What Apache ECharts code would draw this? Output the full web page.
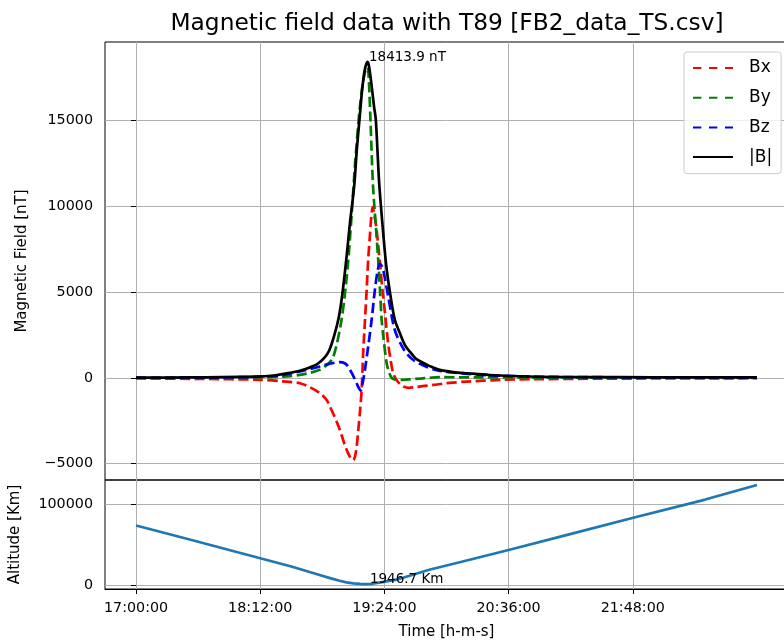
<!DOCTYPE html>
<html><head><meta charset="utf-8">
<script src="https://cdn.jsdelivr.net/npm/echarts@6/dist/echarts.min.js"></script>
<style>html,body{margin:0;padding:0;background:#fff;overflow:hidden}#c{width:800px;height:642px}</style>
</head><body><div id="c"></div>
<script>
// ---- data (time in minutes after 17:00:00) ----
const startHour = 17;
const xTickMinutes = [0, 72, 144, 216, 288];
const fieldTicks = [-5000, 0, 5000, 10000, 15000];
const altTicks = [0, 100000];

const bxTime   = [0, 37, 72, 85, 95, 101, 106.6, 110.5, 112.4, 115.5, 118.2, 121, 123, 124.5, 125.9, 127.5, 128.8, 129.8, 130.8, 131.7, 132.7, 133.7, 134.6, 135.6, 136.4, 137.2, 138.2, 139.5, 141.4, 143, 144.3, 145.3, 146.3, 147.2, 149, 151, 153, 155, 158, 162, 166, 172.3, 180, 191.6, 211, 230, 270, 360];
const bxValues = [-20, -60, -110, -200, -310, -550, -894, -1285, -1676, -2350, -3037, -3900, -4398, -4680, -4790, -4300, -3100, -2000, -700, 1500, 3300, 5100, 6900, 8300, 9400, 9950, 9500, 8600, 6700, 5000, 3800, 2800, 1900, 1300, 300, -117, -350, -500, -580, -540, -480, -410, -310, -215, -117, -76, -45, -20];

const byTime   = [0, 40, 70, 85, 95, 101, 106.6, 110, 113.5, 116, 119, 121, 123, 125, 127, 129.5, 131.5, 133, 134.2, 135, 135.9, 137.4, 139, 140.4, 141.5, 142.4, 143.5, 145.3, 146.8, 148.2, 150, 153, 158, 165, 176, 200, 250, 300, 360];
const byValues = [0, 5, 30, 76, 175, 300, 470, 700, 1050, 1800, 3300, 4800, 6800, 9500, 12500, 15500, 17200, 17900, 18100, 17300, 15070, 11175, 8900, 6890, 5000, 3390, 2300, 858, 300, 0, -90, -120, -90, -40, 40, 30, 15, 10, 5];

const bzTime   = [0, 40, 75.7, 85.4, 95, 101, 106.6, 112, 118.2, 121, 123, 125.5, 127.9, 129.2, 130.2, 131.2, 132.7, 134.6, 136.6, 138.5, 140, 141.2, 142.3, 143.3, 146.2, 150, 155, 160, 166, 175, 190, 210, 240, 300, 360];
const bzValues = [0, 20, 76, 175, 370, 520, 660, 820, 917, 850, 660, 200, -310, -600, -750, -400, 467, 1830, 3390, 5140, 6200, 6650, 6550, 6310, 4750, 2800, 1700, 1100, 750, 430, 250, 130, 60, 30, 20];

const bTime   = [0, 20, 40, 60, 72, 80, 87, 95, 100, 105, 109, 112, 115, 117.5, 119.5, 122, 124, 126.5, 128, 129.5, 131, 132.5, 133.5, 134.2, 135, 136.5, 138, 139, 140, 141, 143, 145, 147.2, 150, 153, 156, 159, 162, 166, 170, 176, 184, 192, 205, 228, 260, 300, 360];
const bValues = [15, 20, 35, 55, 85, 140, 260, 420, 580, 800, 1150, 1600, 2500, 3500, 4800, 7000, 9000, 11200, 13300, 15000, 16700, 17900, 18300, 18413.9, 18200, 17100, 15800, 15070, 13200, 11300, 8800, 6600, 5000, 3400, 2600, 1900, 1500, 1150, 900, 700, 470, 340, 270, 170, 80, 50, 35, 25];

const altTime   = [0, 30, 60, 72, 90, 105, 112, 118, 122, 126, 130, 133, 136, 141, 146, 151, 160, 170, 190, 216, 250, 290, 330, 360];
const altValues = [74000, 57500, 40500, 33800, 23500, 14000, 9500, 6000, 4000, 2800, 2100, 1946.7, 2200, 3800, 5600, 7300, 13000, 19500, 30000, 43900, 62500, 84500, 106000, 124000];

const peakTime = 134.2, peakValue = 18413.9;
const minAltTime = 133, minAltValue = 1946.7;

// ---- chart ----
const FONT = 'DejaVu Sans';
const zip = (a, b) => a.map((t, i) => [t, b[i]]);
const pad2 = n => String(n).padStart(2, '0');
const fmtTime = m => {
  const tot = Math.round(m * 60);
  const h = startHour + Math.floor(tot / 3600);
  const mm = Math.floor((tot % 3600) / 60);
  const ss = tot % 60;
  return pad2(h) + ':' + pad2(mm) + ':' + pad2(ss);
};
const span = (lo, hi) => { const d = (hi - lo) * 0.05; return [lo - d, hi + d]; };
const xr = span(0, 360);
const fr = span(Math.min(...bxValues), peakValue);
const ar = span(minAltValue, Math.max(...altValues));
const gridCol = '#b0b0b0';
const LW = 2.7;
const dash = [10.2, 4.4];
const legendDash = [8.3, 7.7];

const chart = echarts.init(document.getElementById('c'), null, {renderer: 'canvas'});
const mkLine = (name, t, v, color, dashed, xi, smooth) => ({
  name, type: 'line', xAxisIndex: xi, yAxisIndex: xi,
  data: zip(t, v), symbol: 'none', showSymbol: false, smooth: smooth,
  lineStyle: {color, width: LW, type: dashed ? dash : 'solid', cap: 'butt', join: 'round'},
  itemStyle: {color}, emphasis: {disabled: true}, animation: false
});

const bSeries = mkLine('|B|', bTime, bValues, '#000000', false, 0, 0.3);
bSeries.markPoint = {
  symbol: 'rect', symbolSize: 1, itemStyle: {color: 'rgba(0,0,0,0)'}, silent: true, animation: false,
  data: [{coord: [peakTime, peakValue],
    label: {show: true, formatter: peakValue.toFixed(1) + ' nT', position: [0, 0], offset: [2, 3],
      align: 'left', verticalAlign: 'bottom', color: '#000', fontSize: 13.5, fontFamily: FONT}}]
};
const altSeries = mkLine('Altitude', altTime, altValues, '#1f77b4', false, 1, false);
altSeries.markPoint = {
  symbol: 'rect', symbolSize: 1, itemStyle: {color: 'rgba(0,0,0,0)'}, silent: true, animation: false,
  data: [{coord: [minAltTime, minAltValue],
    label: {show: true, formatter: minAltValue.toFixed(1) + ' Km', position: [0, 0], offset: [5, 3],
      align: 'left', verticalAlign: 'bottom', color: '#000', fontSize: 13.5, fontFamily: FONT}}]
};

const tickLabel = {color: '#000', fontSize: 14.3, fontFamily: FONT};
const nameStyle = {color: '#000', fontSize: 15, fontFamily: FONT};
const plain = v => (v < 0 ? '\u2212' + String(Math.abs(v)) : String(v));

chart.setOption({
  animation: false,
  title: {text: 'Magnetic field data with T89 [FB2_data_TS.csv]', left: 442, top: 7, textAlign: 'center',
    textStyle: {fontSize: 23.3, fontWeight: 'normal', color: '#000', fontFamily: FONT}},
  legend: {
    data: [
      {name: 'Bx', lineStyle: {type: legendDash}},
      {name: 'By', lineStyle: {type: legendDash}},
      {name: 'Bz', lineStyle: {type: legendDash}},
      {name: '|B|'}
    ],
    orient: 'vertical', left: 684, top: 52,
    padding: [7.5, 9, 8, 8], itemGap: 12.7, itemWidth: 40, itemHeight: 17,
    itemStyle: {opacity: 0},
    textStyle: {fontSize: 17, fontFamily: FONT, color: '#000', padding: [0, 0, 0, 11], lineHeight: 17},
    borderColor: '#cccccc', borderWidth: 1, borderRadius: 3, backgroundColor: 'rgba(255,255,255,0.8)'
  },
  grid: [
    {left: 105, top: 42, width: 683, height: 438, show: true, borderColor: '#000', borderWidth: 1, backgroundColor: 'transparent'},
    {left: 105, top: 480, width: 683, height: 109, show: true, borderColor: '#000', borderWidth: 1, backgroundColor: 'transparent'}
  ],
  xAxis: [
    {type: 'value', gridIndex: 0, min: xr[0], max: xr[1],
      axisLine: {show: false}, axisTick: {show: false, customValues: xTickMinutes},
      axisLabel: {show: false, customValues: xTickMinutes},
      splitLine: {show: true, lineStyle: {color: gridCol, width: 1}}},
    {type: 'value', gridIndex: 1, min: xr[0], max: xr[1],
      name: 'Time [h-m-s]', nameLocation: 'middle', nameGap: 36, nameTextStyle: nameStyle,
      axisLine: {show: true, onZero: false, lineStyle: {color: '#000', width: 1}},
      axisTick: {show: true, inside: false, length: 5, lineStyle: {color: '#000'}, customValues: xTickMinutes},
      axisLabel: Object.assign({margin: 12, formatter: v => fmtTime(v), customValues: xTickMinutes}, tickLabel),
      splitLine: {show: true, lineStyle: {color: gridCol, width: 1}}}
  ],
  yAxis: [
    {type: 'value', gridIndex: 0, min: fr[0], max: fr[1],
      name: 'Magnetic Field [nT]', nameLocation: 'middle', nameGap: 75, nameTextStyle: nameStyle,
      axisLine: {show: false},
      axisTick: {show: true, length: 5, lineStyle: {color: '#000'}, customValues: fieldTicks},
      axisLabel: Object.assign({margin: 12, formatter: plain, customValues: fieldTicks}, tickLabel),
      splitLine: {show: true, lineStyle: {color: gridCol, width: 1}}},
    {type: 'value', gridIndex: 1, min: ar[0], max: ar[1],
      name: 'Altitude [Km]', nameLocation: 'middle', nameGap: 82, nameTextStyle: nameStyle,
      axisLine: {show: false},
      axisTick: {show: true, length: 5, lineStyle: {color: '#000'}, customValues: altTicks},
      axisLabel: Object.assign({margin: 12, formatter: plain, customValues: altTicks}, tickLabel),
      splitLine: {show: true, lineStyle: {color: gridCol, width: 1}}}
  ],
  series: [
    mkLine('Bx', bxTime, bxValues, '#ff0000', true, 0, 0.3),
    mkLine('By', byTime, byValues, '#008000', true, 0, 0.3),
    mkLine('Bz', bzTime, bzValues, '#0000ff', true, 0, 0.3),
    bSeries,
    altSeries
  ]
});
</script></body></html>
